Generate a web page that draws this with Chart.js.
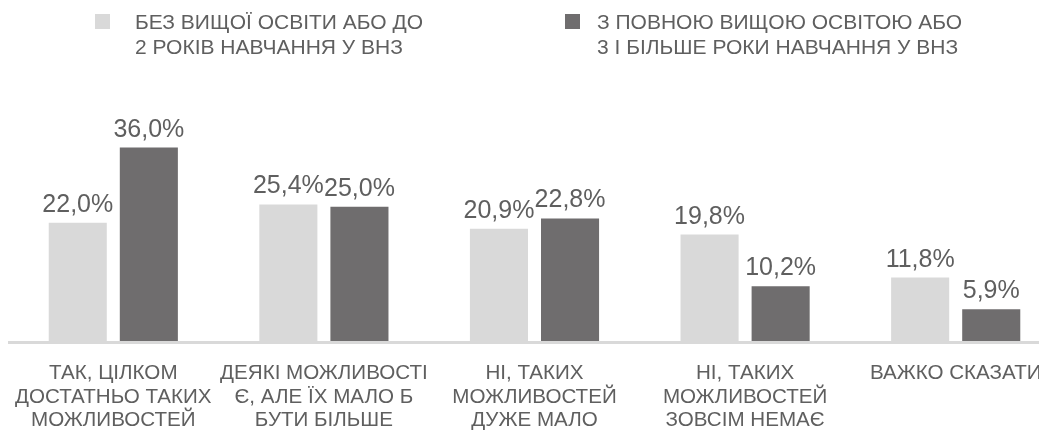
<!DOCTYPE html>
<html>
<head>
<meta charset="utf-8">
<script src="https://cdn.jsdelivr.net/npm/chart.js@4.4.1/dist/chart.umd.min.js"></script>
<style>
  html, body { margin: 0; padding: 0; background: #fff; overflow: hidden; }
  #wrap { position: relative; width: 1070px; height: 432px; }
</style>
</head>
<body>
<div id="wrap"><canvas id="eduChart"></canvas></div>
<script>
// Категорії відповідей (по рядках)
var categories = [
    ['ТАК, ЦІЛКОМ', 'ДОСТАТНЬО ТАКИХ', 'МОЖЛИВОСТЕЙ'],
    ['ДЕЯКІ МОЖЛИВОСТІ', 'Є, АЛЕ ЇХ МАЛО Б', 'БУТИ БІЛЬШЕ'],
    ['НІ, ТАКИХ', 'МОЖЛИВОСТЕЙ', 'ДУЖЕ МАЛО'],
    ['НІ, ТАКИХ', 'МОЖЛИВОСТЕЙ', 'ЗОВСІМ НЕМАЄ'],
    ['ВАЖКО СКАЗАТИ']
];

var seriesNames = [
    ['БЕЗ ВИЩОЇ ОСВІТИ АБО ДО', '2 РОКІВ НАВЧАННЯ У ВНЗ'],
    ['З ПОВНОЮ ВИЩОЮ ОСВІТОЮ АБО', '3 І БІЛЬШЕ РОКИ НАВЧАННЯ У ВНЗ']
];

var withoutHigher = [22.0, 25.4, 20.9, 19.8, 11.8];
var withHigher = [36.0, 25.0, 22.8, 10.2, 5.9];

var colors = ['#d9d9d9', '#6f6d6e'];
var textColor = '#5f5f5f';
var fontFamily = '"Liberation Sans", Arial, sans-serif';

function formatPct(v) {
    return v.toFixed(1).replace('.', ',') + '%';
}

// Підписи значень над стовпцями
var valueLabels = {
    id: 'valueLabels',
    afterDatasetsDraw: function(chart) {
        var ctx = chart.ctx;
        ctx.save();
        ctx.font = '25px ' + fontFamily;
        ctx.fillStyle = textColor;
        ctx.textAlign = 'center';
        ctx.textBaseline = 'alphabetic';
        chart.data.datasets.forEach(function(ds, i) {
            chart.getDatasetMeta(i).data.forEach(function(bar, j) {
                ctx.fillText(formatPct(ds.data[j]), bar.x, bar.y - 11);
            });
        });
        ctx.restore();
    }
};

// Базова лінія під стовпцями
var baseLine = {
    id: 'baseLine',
    beforeDatasetsDraw: function(chart) {
        var ctx = chart.ctx;
        var x = chart.scales.x;
        ctx.save();
        ctx.fillStyle = '#d9d9d9';
        ctx.fillRect(x.left, chart.chartArea.bottom, x.right - x.left, 3);
        ctx.restore();
    }
};

// Легенда у два рядки
var twoLineLegend = {
    id: 'twoLineLegend',
    afterDraw: function(chart) {
        var ctx = chart.ctx;
        var items = [{ x: 95, textX: 135 }, { x: 565, textX: 597 }];
        ctx.save();
        ctx.font = '21px ' + fontFamily;
        ctx.textAlign = 'left';
        ctx.textBaseline = 'middle';
        chart.data.datasets.forEach(function(ds, i) {
            ctx.fillStyle = ds.backgroundColor;
            ctx.fillRect(items[i].x, 14, 15, 15);
            ctx.fillStyle = textColor;
            ds.label.forEach(function(line, k) {
                ctx.fillText(line, items[i].textX, 23 + k * 25);
            });
        });
        ctx.restore();
    }
};

new Chart(document.getElementById('eduChart'), {
    type: 'bar',
    data: {
        labels: categories,
        datasets: [
            {
                label: seriesNames[0],
                data: withoutHigher,
                backgroundColor: colors[0],
                categoryPercentage: 0.675,
                barPercentage: 0.817
            },
            {
                label: seriesNames[1],
                data: withHigher,
                backgroundColor: colors[1],
                categoryPercentage: 0.675,
                barPercentage: 0.817
            }
        ]
    },
    options: {
        responsive: true,
        maintainAspectRatio: false,
        animation: false,
        layout: {
            padding: { top: 126, left: 8, right: 9, bottom: 0 }
        },
        plugins: {
            legend: { display: false },
            tooltip: { enabled: false }
        },
        scales: {
            y: {
                display: false,
                min: 0,
                max: 40
            },
            x: {
                grid: { display: false, drawTicks: false },
                border: { display: false },
                ticks: {
                    color: textColor,
                    padding: 21,
                    maxRotation: 0,
                    autoSkip: false,
                    font: { family: fontFamily, size: 20.6, lineHeight: 1.14 }
                },
                afterFit: function(scale) {
                    // фіксована висота осі і без додаткових бічних відступів
                    scale.height = 91;
                    scale.paddingLeft = 0;
                    scale.paddingRight = 0;
                }
            }
        }
    },
    plugins: [baseLine, valueLabels, twoLineLegend]
});
</script>
</body>
</html>
